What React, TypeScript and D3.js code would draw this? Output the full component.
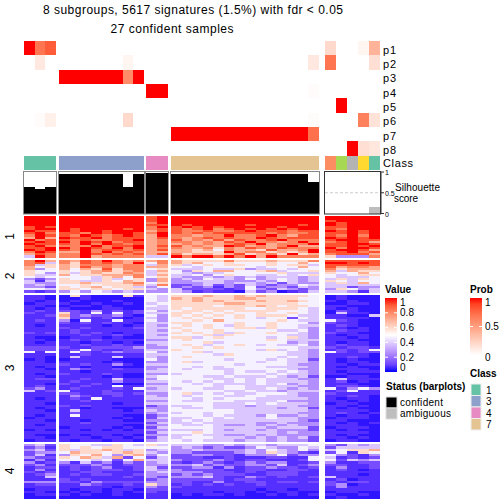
import React from "react";
import * as d3 from "d3";

const groups = ["1", "3", "4", "7", "amb"];
const groupSizes = [3, 8, 2, 14, 5];
const classColors = [
  "#66C2A5", "#66C2A5", "#66C2A5",
  "#8DA0CB", "#8DA0CB", "#8DA0CB", "#8DA0CB", "#8DA0CB", "#8DA0CB", "#8DA0CB", "#8DA0CB",
  "#E78AC3", "#E78AC3",
  "#E5C494", "#E5C494", "#E5C494", "#E5C494", "#E5C494", "#E5C494", "#E5C494", "#E5C494", "#E5C494", "#E5C494", "#E5C494", "#E5C494", "#E5C494", "#E5C494",
  "#FC8D62", "#A6D854", "#B3B3B3", "#FFD92F", "#66C2A5",
];
const probNames = ["p1", "p2", "p3", "p4", "p5", "p6", "p7", "p8"];
const p1 = [1, .7, .8, 0, 0, 0, 0, 0, 0, 0, 0, 0, 0, 0, 0, 0, 0, 0, 0, 0, 0, 0, 0, 0, 0, 0, 0, .2, 0, 0, .05, .4];
const p2 = [0, .12, 0, 0, 0, 0, 0, 0, 0, .05, 0, 0, 0, 0, 0, 0, 0, 0, 0, 0, 0, 0, 0, 0, 0, 0, .12, .7, 0, 0, 0, .17];
const p3 = [0, 0, 0, 1, 1, 1, 1, 1, 1, .6, 1, 0, 0, 0, 0, 0, 0, 0, 0, 0, 0, 0, 0, 0, 0, 0, 0, 0, 0, 0, 0, 0];
const p4 = [0, 0, 0, 0, 0, 0, 0, 0, 0, 0, 0, 1, 1, 0, 0, 0, 0, 0, 0, 0, 0, 0, 0, 0, 0, 0, .02, 0, 0, 0, 0, 0];
const p5 = [0, 0, 0, 0, 0, 0, 0, 0, 0, 0, 0, 0, 0, 0, 0, 0, 0, 0, 0, 0, 0, 0, 0, 0, 0, 0, 0, 0, 1, 0, 0, 0];
const p6 = [0, .02, .08, 0, 0, 0, 0, 0, 0, .2, 0, 0, 0, 0, 0, 0, 0, 0, 0, 0, 0, 0, 0, 0, 0, 0, .02, 0, 0, 0, .65, .15];
const p7 = [0, 0, 0, 0, 0, 0, 0, 0, 0, 0, 0, 0, 0, 1, 1, 1, 1, 1, 1, 1, 1, 1, 1, 1, 1, 1, .72, 0, 0, 0, 0, 0];
const p8 = [0, 0, 0, 0, 0, 0, 0, 0, 0, 0, 0, 0, 0, 0, 0, 0, 0, 0, 0, 0, 0, 0, 0, 0, 0, 0, 0, 0, 0, 1, .17, .13];
const probRows = [p1, p2, p3, p4, p5, p6, p7, p8];
const silhouette = [.63, .6, .63, .95, .95, .95, .95, .95, .95, .63, .95, .98, .98, .95, .95, .95, .95, .95, .95, .95, .95, .95, .95, .95, .95, .95, .75, 0, 0, 0, 0, .15];
const sliceNames = ["1", "2", "3", "4"];

// Heatmap cells: each character indexes cellLevels.
const cellLevels = [.02, .06, .12, .26, .38, .47, .6, .72, .82, .92, 1];
const slice1 = [
  "aaa aaaaaaaa 9a aaaaaaaaaaaaaa aaaaa",
  "aaa aaaaaaaa 9a aaaaaaaaaaaaaa aaaaa",
  "aaa aaaaaaaa 9a aaaaaaaaaaaaaa 9aaaa",
  "aaa aaaaaaaa 8a aaaaaaaaaaaaaa a9aaa",
  "aaa aaaaaaaa 99 a9aaaaa9aaaa9a a9aaa",
  "9a9 aaaaaaaa 8a 9a9a9aaaaa9aaa 99aaa",
  "9aa a9aaaa9a 89 989a89a9a9a9aa 98aaa",
  "a99 a9aa9aaa 79 9889889a999899 a9a9a",
  "9a8 998a9aa9 8a 98989999989889 99a9a",
  "8a9 98a989a9 7a 88788a889a8799 98a8a",
  "7a7 a99a8999 79 87898988a98999 a9a9a",
  "a89 9898899a 78 9787979889a888 9aa99",
  "9a9 a8a9a899 78 8878798a8878a8 89a97",
  "a99 98a8a989 78 78787898a7888a 99aa9",
  "9a8 888a899a 79 97877a97878a77 99a9a",
  "99a a8a98a8a 78 87786879879888 a8aa9",
  "a9a 98a89989 79 7767587769778a 9aa97",
  "8a9 77a8a898 77 77666a7886767a 99a89",
  "798 88a98989 79 86776796786a67 89997",
  "4a8 88a78888 44 a8aa8a8a7a8888 63338",
];
const slice2 = [
  "8a7 8798a878 78 76666866676668 99999",
  "894 8698987a 58 76755655565575 aa9a9",
  "846 76888788 47 64565665565664 99999",
  "756 76978788 77 55455555455575 97887",
  "735 75769688 56 44454463445455 86777",
  "655 65678678 47 53657755674556 74766",
  "653 64676687 46 54344555556444 65575",
  "644 75667778 47 44535655445456 54566",
  "545 55546758 56 43343434344434 54445",
  "323 65546456 37 34354435345434 46465",
  "414 66446576 37 33444333435434 65455",
  "433 66766678 56 33344344342433 46475",
  "343 55656667 48 22342324323354 44444",
  "332 65675664 35 23231325233243 44233",
  "554 66566566 43 42222125324323 36534",
  "212 35354343 33 43121104230124 44314",
];
const slice3 = [
  "110 06100061 54 66676676766665 01000",
  "110 00100000 54 76766677666655 01000",
  "101 01000100 54 66767666766765 10100",
  "011 10010010 45 66666776666655 00110",
  "110 01101000 54 66665666765665 11000",
  "101 10001100 44 65666665566654 10100",
  "121 22131212 53 56656566665554 02100",
  "211 62151512 44 66565655655654 04110",
  "112 72322310 53 65656565666544 11004",
  "111 62212101 43 56565565455254 11110",
  "121 30511511 53 55657555556544 52100",
  "111 21212110 44 66555565565553 21100",
  "101 11110101 43 56565465565544 12100",
  "111 21211112 44 65565566465543 11010",
  "111 12111111 43 56556555554453 12110",
  "212 12121011 44 65656465565543 21100",
  "111 11211210 43 55564655555443 10110",
  "100 01110100 44 66456555545643 11010",
  "110 12121111 33 56555555565444 11100",
  "101 11011010 44 55564555555343 10110",
  "111 11211211 34 56545565454453 12110",
  "222 21122223 33 55656555555544 21221",
  "222 12521122 44 65555555464543 12125",
  "515 15212322 53 55645555555443 52122",
  "111 11211111 44 55554655555443 11110",
  "110 14111411 43 56555555554543 11210",
  "010 01111000 53 55555455545442 10100",
  "110 11110100 33 56455555455443 10110",
  "111 21211310 44 55555545555433 11011",
  "101 11011000 33 55454555544443 10100",
  "110 13211211 34 54554455555433 11110",
  "111 11011111 44 55555454454543 10111",
  "101 21112100 33 45555455545443 11000",
  "110 11110100 45 55544544454342 00110",
  "122 11211411 35 55554454544433 14111",
  "111 12111311 44 54545454544443 12010",
  "110 21121000 33 55454444545343 11100",
  "121 11211511 44 55554554444433 12210",
  "231 12111215 34 45544554454343 51353",
  "412 51112111 44 55555445443444 12511",
  "111 22112212 33 56454544555433 21111",
  "111 13211211 43 54555445544433 11210",
  "101 12151111 44 55454555444443 10110",
  "111 11211111 33 54455544445333 11010",
  "110 11111011 44 55554445454443 01100",
  "111 21211111 23 44554443444433 11010",
  "101 11011000 33 54454444443442 10100",
  "110 14111101 43 55555544444443 11110",
  "111 12111111 34 45545544444433 12101",
  "101 15111100 23 55545444353343 10110",
  "011 11111010 24 44554544454433 01110",
  "110 11011100 33 45454444444432 11000",
  "111 11211111 24 44544444334333 10101",
  "101 11111100 33 54454334343433 11100",
  "111 01111010 24 55554444434442 01110",
  "010 11010101 33 44454344343332 10100",
  "111 11111111 24 55654444443433 11110",
  "100 01011010 33 44544334343333 10100",
  "110 11101101 24 45554443434342 11010",
  "011 10110110 34 54544434434332 01100",
];
const slice4 = [
  "342 65544654 64 44433434434445 32434",
  "231 65656655 55 34323223543354 24444",
  "342 64667646 34 33433334354353 45667",
  "233 57665676 43 33222234364321 25165",
  "241 36575367 35 22332213335233 53213",
  "322 65764725 24 22211211122115 41212",
  "131 55545257 44 32223212211125 52434",
  "312 31423132 34 21232123233112 31122",
  "231 22232122 33 33423223324123 22112",
  "122 12123112 42 22331312232212 13112",
  "131 12122212 43 32222112211221 12101",
  "212 11221111 34 33322212122211 11111",
  "123 12122112 33 23232221122211 11101",
  "114 11111121 32 33342113212112 41111",
  "111 21211111 23 22222122111111 12011",
  "333 22132222 33 22113112212212 21221",
  "122 11321121 63 12121211211111 23011",
  "111 11111011 32 21111111111111 13111",
  "011 10110110 22 11111111011011 11111",
  "110 01010101 21 11110110101100 01100",
  "011 10100100 11 01011010010101 10010",
  "000 00000000 11 00000000000000 01000",
];
const slices = [slice1, slice2, slice3, slice4];

const valueTicks = [0, 0.2, 0.4, 0.6, 0.8, 1];
const probTicks = [0, 0.5, 1];
const silhouetteTicks = [0, 0.5, 1];
const classLegend = ["1", "3", "4", "7"];
const classLegendColors = ["#66C2A5", "#8DA0CB", "#E78AC3", "#E5C494"];
const statusLegend = ["confident", "ambiguous"];
const statusColors = ["#000000", "#BEBEBE"];

const groupExtents = [[24, 56], [59, 144], [146, 168], [171, 319], [325, 380]];
const sliceExtents = [[216, 257], [260, 292], [295, 441], [444, 498]];
const font = "'Liberation Sans', Arial, sans-serif";

const heatColor = d3.scaleLinear<string>().domain([0, 0.5, 1]).range(["#0000ff", "#ffffff", "#ff0000"]).interpolate(d3.interpolateLab);
const probColor = d3.scaleLinear<string>().domain([0, 1]).range(["#ffffff", "#ff0000"]).interpolate(d3.interpolateLab);

const columns: { x: number; w: number; i: number; g: number }[] = [];
let counter = 0;
groupSizes.forEach((size, g) => {
  const band = d3.scaleBand<number>().domain(d3.range(size)).range(groupExtents[g] as [number, number]);
  d3.range(size).forEach((k) => {
    columns.push({ x: band(k)!, w: band.bandwidth(), i: counter, g });
    counter += 1;
  });
});

const probY = d3.scaleBand<string>().domain(probNames).range([41, 155.7]);
const silY = d3.scaleLinear().domain([0, 1]).range([213.5, 172]);

function parseCell(ch: string) {
  return cellLevels[ch === "a" ? 10 : +ch];
}

function Gradient({ id, stops }: { id: string; stops: [number, string][] }) {
  return (
    <linearGradient id={id} x1="0" y1="1" x2="0" y2="0">
      {stops.map(([o, c]) => <stop key={o} offset={o} stopColor={c} />)}
    </linearGradient>
  );
}

export default function App() {
  const valueY = d3.scaleLinear().domain([0, 1]).range([372, 298]);
  const probLegendY = d3.scaleLinear().domain([0, 1]).range([355, 298]);
  return (
    <svg width={504} height={504} style={{ position: "absolute", left: 0, top: 0, background: "#fff" }} fontFamily={font}>
      <defs>
        <Gradient id="valueGrad" stops={d3.range(0, 1.01, 0.1).map((v) => [v, heatColor(v)] as [number, string])} />
        <Gradient id="probGrad" stops={d3.range(0, 1.01, 0.1).map((v) => [v, probColor(v)] as [number, string])} />
      </defs>
      <text x={193} y={14} fontSize={12} textAnchor="middle" textLength={300} fill="#000">8 subgroups, 5617 signatures (1.5%) with fdr &lt; 0.05</text>
      <text x={172} y={33} fontSize={12} textAnchor="middle" textLength={123} fill="#000">27 confident samples</text>

      {probRows.map((row, r) => (
        <g key={probNames[r]}>
          {columns.map((c) => row[c.i] > 0 && (
            <rect key={c.i} x={c.x} y={probY(probNames[r])} width={c.w} height={probY.bandwidth()} fill={probColor(row[c.i])} shapeRendering="crispEdges" />
          ))}
          <text x={383} y={probY(probNames[r])! + 12.5} fontSize={11} textLength={13} fill="#000">{probNames[r]}</text>
        </g>
      ))}

      {columns.map((c) => (
        <rect key={c.i} x={c.x} y={156} width={c.w} height={14} fill={classColors[c.i]} shapeRendering="crispEdges" />
      ))}
      <text x={383} y={167} fontSize={11} textLength={30} fill="#000">Class</text>

      {columns.map((c) => silhouette[c.i] > 0 && (
        <rect key={c.i} x={c.x} y={silY(silhouette[c.i])} width={c.w} height={silY(0) - silY(silhouette[c.i])} fill={c.g === 4 ? "#BEBEBE" : "#000"} shapeRendering="crispEdges" />
      ))}
      {groupExtents.map(([a, b], g) => (
        <rect key={groups[g]} x={a - 0.5} y={171.5} width={b - a + 1} height={42.5} fill="none" stroke={g === 4 ? "#333" : "#888"} strokeWidth={1} />
      ))}
      <line x1={325} x2={380} y1={silY(0.5)} y2={silY(0.5)} stroke="#ccc" strokeDasharray="3 2" />
      <line x1={381} x2={381} y1={silY(1)} y2={silY(0)} stroke="#333" />
      {silhouetteTicks.map((t) => (
        <g key={t}>
          <line x1={380} x2={384} y1={silY(t)} y2={silY(t)} stroke="#333" />
          <text x={385} y={silY(t) + 3} fontSize={7} fill="#000">{t}</text>
        </g>
      ))}
      <text x={395} y={191} fontSize={10} textLength={45} fill="#000">Silhouette</text>
      <text x={394} y={202} fontSize={10} textLength={24} fill="#000">score</text>

      {slices.map((rows, s) => {
        const y = d3.scaleBand<number>().domain(d3.range(rows.length)).range(sliceExtents[s] as [number, number]);
        return (
          <g key={sliceNames[s]} shapeRendering="crispEdges">
            {rows.map((row, r) => {
              const cells = row.replace(/ /g, "");
              return columns.map((c) => (
                <rect key={`${r}-${c.i}`} x={c.x} y={y(r)} width={c.w} height={y.bandwidth() + 0.5} fill={heatColor(parseCell(cells[c.i]))} />
              ));
            })}
          </g>
        );
      })}
      {sliceNames.map((n, s) => {
        const cy = (sliceExtents[s][0] + sliceExtents[s][1]) / 2;
        return <text key={n} transform={`translate(14,${cy}) rotate(-90)`} fontSize={12} textAnchor="middle" fill="#000">{n}</text>;
      })}

      <text x={385} y={293} fontSize={10} fontWeight="bold" fill="#000">Value</text>
      <rect x={385} y={298} width={12} height={74} fill="url(#valueGrad)" />
      {valueTicks.map((t) => (
        <g key={t}>
          {t > 0 && t < 1 && <line x1={385} x2={388} y1={valueY(t)} y2={valueY(t)} stroke="#fff" />}
          {t > 0 && t < 1 && <line x1={394} x2={397} y1={valueY(t)} y2={valueY(t)} stroke="#fff" />}
          <text x={400} y={t === 1 ? 306 : t === 0 ? 371 : valueY(t) + 3.5} fontSize={10} textLength={t === 0 || t === 1 ? undefined : 14} fill="#000">{t}</text>
        </g>
      ))}

      <text x={470} y={293} fontSize={10} fontWeight="bold" fill="#000">Prob</text>
      <rect x={470} y={298} width={12} height={57} fill="url(#probGrad)" />
      {probTicks.map((t) => (
        <g key={t}>
          {t === 0.5 && <line x1={470} x2={473} y1={probLegendY(t)} y2={probLegendY(t)} stroke="#fff" />}
          {t === 0.5 && <line x1={479} x2={482} y1={probLegendY(t)} y2={probLegendY(t)} stroke="#fff" />}
          <text x={485} y={t === 1 ? 306 : t === 0 ? 361 : probLegendY(t) + 3.5} fontSize={10} fill="#000">{t}</text>
        </g>
      ))}

      <text x={470} y={377} fontSize={10} fontWeight="bold" fill="#000">Class</text>
      {classLegend.map((n, i) => (
        <g key={n}>
          <rect x={471} y={384 + i * 11.5} width={10} height={11.5} fill={classLegendColors[i]} stroke="#eee" />
          <text x={486} y={393.5 + i * 11.5} fontSize={10} fill="#000">{n}</text>
        </g>
      ))}

      <text x={386} y={390} fontSize={10} fontWeight="bold" fill="#000">Status (barplots)</text>
      {statusLegend.map((n, i) => (
        <g key={n}>
          <rect x={386} y={397 + i * 11} width={11} height={11} fill={statusColors[i]} stroke="#ddd" />
          <text x={400} y={406 + i * 11} fontSize={10} textLength={n === "confident" ? 43 : 51} fill="#000">{n}</text>
        </g>
      ))}
    </svg>
  );
}
